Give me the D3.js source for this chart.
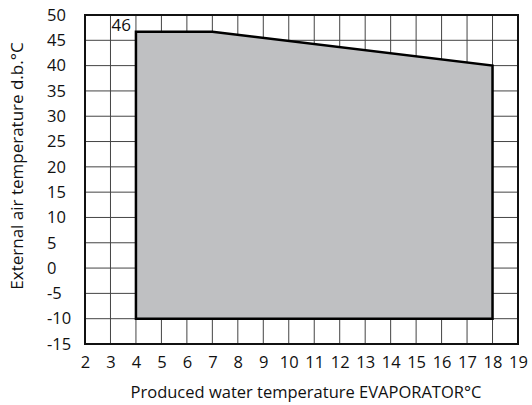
<!DOCTYPE html>
<html><head><meta charset="utf-8">
<script src="https://cdn.jsdelivr.net/npm/d3@7"></script>
<style>body{margin:0;background:#fff}text{font-family:"Open Sans",sans-serif;fill:#111}</style>
</head><body><svg id="c" width="532" height="405"></svg>
<script>
const xTicks = [2,3,4,5,6,7,8,9,10,11,12,13,14,15,16,17,18,19];
const yTicks = [-15,-10,-5,0,5,10,15,20,25,30,35,40,45,50];
const envWater = [4,4,7,18,18];
const envAir = [-10,46.7,46.7,40,-10];
const peakLabel = "46";
const xTitle = "Produced water temperature EVAPORATOR°C";
const yTitle = "External air temperature d.b.°C";

const svg = d3.select("#c");
const L=85,R=518,T=15,B=344;
const x = d3.scaleLinear().domain([2,19]).range([L,R]);
const y = d3.scaleLinear().domain([-15,50]).range([B,T]);

const g = svg.append("g");
g.selectAll(".vx").data(xTicks).join("line")
  .attr("x1",d=>x(d)).attr("x2",d=>x(d)).attr("y1",T).attr("y2",B)
  .attr("stroke","#444").attr("stroke-width",1);
g.selectAll(".hy").data(yTicks).join("line")
  .attr("y1",d=>y(d)).attr("y2",d=>y(d)).attr("x1",L).attr("x2",R)
  .attr("stroke","#444").attr("stroke-width",1);

const pts = envWater.map((w,i)=>[x(w),y(envAir[i])]);
svg.append("path").attr("d", d3.line()(pts)+"Z")
  .attr("fill","#bfc0c2").attr("stroke","#000").attr("stroke-width",2.5).attr("stroke-linejoin","miter");

svg.append("rect").attr("x",L).attr("y",T).attr("width",R-L).attr("height",B-T)
  .attr("fill","none").attr("stroke","#111").attr("stroke-width",2);

const xa = svg.append("g").attr("transform",`translate(0,${B})`)
  .call(d3.axisBottom(x).tickValues(xTicks).tickSize(0).tickPadding(12).tickFormat(d=>String(d)));
xa.select(".domain").remove();
xa.selectAll("text").style("font-size","16.5px").style("font-family","Open Sans").attr("fill","#111");

const ya = svg.append("g").attr("transform",`translate(${L},0)`)
  .call(d3.axisLeft(y).tickValues(yTicks).tickSize(0).tickFormat(d=>String(d)));
ya.select(".domain").remove();
ya.selectAll("text").attr("x",47-L).attr("text-anchor","start")
  .style("font-size","16.5px").style("font-family","Open Sans").attr("fill","#111");

svg.append("text").attr("x",x(3)+1).attr("y",y(46.7)-1).text(peakLabel).style("font-size","17px");

svg.append("text").attr("x",306).attr("y",398).attr("text-anchor","middle")
  .style("font-size","16.5px").text(xTitle);
svg.append("text").attr("transform",`translate(23,166) rotate(-90)`).attr("text-anchor","middle")
  .style("font-size","17px").text(yTitle);
</script></body></html>
